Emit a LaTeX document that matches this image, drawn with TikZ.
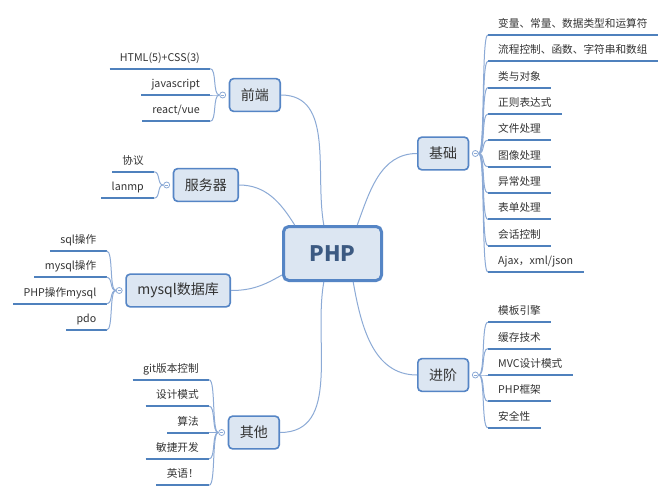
\documentclass[tikz,border=0pt]{standalone}
\usepackage{fontspec}
\setmainfont{Noto Sans CJK SC}
\usepackage{tikz}
\usetikzlibrary{positioning,calc}

\definecolor{cfill}{HTML}{DCE6F2}
\definecolor{cline}{HTML}{5585C5}
\definecolor{ctwig}{HTML}{8CAAD6}
\definecolor{cleaf}{HTML}{4F81BD}
\definecolor{ctext}{HTML}{333333}
\definecolor{cphp}{HTML}{3C5A82}

\begin{document}
\begin{tikzpicture}[x=0.75pt,y=-0.75pt,semithick]
\tikzstyle{root}=[draw=cline,line width=2.25pt,fill=cfill,rounded corners=4pt,minimum width=73.5pt,minimum height=40.5pt,text=cphp,font=\fontsize{16}{18}\selectfont\bfseries]
\tikzstyle{topic}=[draw=cline,line width=1.2pt,fill=cfill,rounded corners=3pt,minimum height=24.5pt,inner xsep=8.5pt,text=ctext,font=\fontsize{10.5}{12}\selectfont]
\tikzstyle{fold}=[circle,draw=ctwig,fill=white,line width=.6pt,minimum size=4.5pt,inner sep=0pt,path picture={\draw[ctwig,line width=.5pt] ([xshift=1pt]path picture bounding box.west) -- ([xshift=-1pt]path picture bounding box.east);}]
\tikzstyle{leafL}=[anchor=south east,inner xsep=7.5pt,inner ysep=0pt,text height=6pt,text depth=5.25pt,text=ctext,font=\fontsize{8}{10}\selectfont]
\tikzstyle{leafR}=[leafL,anchor=south west]
\tikzstyle{leafline}=[cleaf,line width=1.5pt]
\tikzstyle{branch}=[ctwig,line width=.75pt]
\tikzstyle{twig}=[ctwig,line width=.75pt,max distance=5pt]

\path[use as bounding box,fill=white] (0,0) rectangle (672,500);

\node[root] (php) at (332.5,253.5) {PHP};

\node[topic,anchor=east] (front) at (281,95) {前端};
\node[topic,anchor=east] (server) at (239,185) {服务器};
\node[topic,anchor=east] (mysql) at (231,290.5) {mysql数据库};
\node[topic,anchor=east] (other) at (280,432.5) {其他};
\node[topic,anchor=west] (basic) at (417,153.5) {基础};
\node[topic,anchor=west] (adv) at (417,375) {进阶};

\draw[branch] (front.east) to[out=0,in=100] (php.107);
\draw[branch] (server.east) to[out=0,in=122] (php.143);
\draw[branch] (mysql.east) to[out=0,in=210] (php.203);
\draw[branch] (other.east) to[out=0,in=260] (php.253);
\draw[branch] (basic.west) to[out=180,in=70] (php.49);
\draw[branch] (adv.west) to[out=180,in=280] (php.306);

\node[fold,left=2pt of front] (frontc) {};
\node[fold,left=2pt of server] (serverc) {};
\node[fold,left=2pt of mysql] (mysqlc) {};
\node[fold,left=2pt of other] (otherc) {};
\node[fold,right=2pt of basic] (basicc) {};
\node[fold,right=2pt of adv] (advc) {};

% left side
\foreach \t [count=\i] in {{HTML(5)+CSS(3)},javascript,{react/vue}} {
  \node[leafL] (front\i) at ($(frontc)+(-12.5,{(\i-2)*26.35})$) {\t};
  \draw[leafline] (front\i.south west) -- (front\i.south east);
  \draw[twig] (frontc.west) to[out=180,in=0] (front\i.south east);
}
\foreach \t [count=\i] in {协议,lanmp} {
  \node[leafL] (server\i) at ($(serverc)+(-12.5,{(\i-1.5)*26.35})$) {\t};
  \draw[leafline] (server\i.south west) -- (server\i.south east);
  \draw[twig] (serverc.west) to[out=180,in=0] (server\i.south east);
}
\foreach \t [count=\i] in {sql操作,mysql操作,PHP操作mysql,pdo} {
  \node[leafL] (mysql\i) at ($(mysqlc)+(-12.5,{(\i-2.5)*26.35})$) {\t};
  \draw[leafline] (mysql\i.south west) -- (mysql\i.south east);
  \draw[twig] (mysqlc.west) to[out=180,in=0] (mysql\i.south east);
}
\foreach \t [count=\i] in {git版本控制,设计模式,算法,敏捷开发,英语！} {
  \node[leafL] (other\i) at ($(otherc)+(-12.5,{(\i-3)*26.35})$) {\t};
  \draw[leafline] (other\i.south west) -- (other\i.south east);
  \draw[twig] (otherc.west) to[out=180,in=0] (other\i.south east);
}

% right side
\foreach \t [count=\i] in {变量、常量、数据类型和运算符,流程控制、函数、字符串和数组,类与对象,正则表达式,文件处理,图像处理,异常处理,表单处理,会话控制,{Ajax，xml/json}} {
  \node[leafR] (basic\i) at ($(basicc)+(12.5,{(\i-5.5)*26.35})$) {\t};
  \draw[leafline] (basic\i.south west) -- (basic\i.south east);
  \draw[twig] (basicc.east) to[out=0,in=180] (basic\i.south west);
}
\foreach \t [count=\i] in {模板引擎,缓存技术,MVC设计模式,PHP框架,安全性} {
  \node[leafR] (adv\i) at ($(advc)+(12.5,{(\i-3)*26.35})$) {\t};
  \draw[leafline] (adv\i.south west) -- (adv\i.south east);
  \draw[twig] (advc.east) to[out=0,in=180] (adv\i.south west);
}
\end{tikzpicture}
\end{document}
